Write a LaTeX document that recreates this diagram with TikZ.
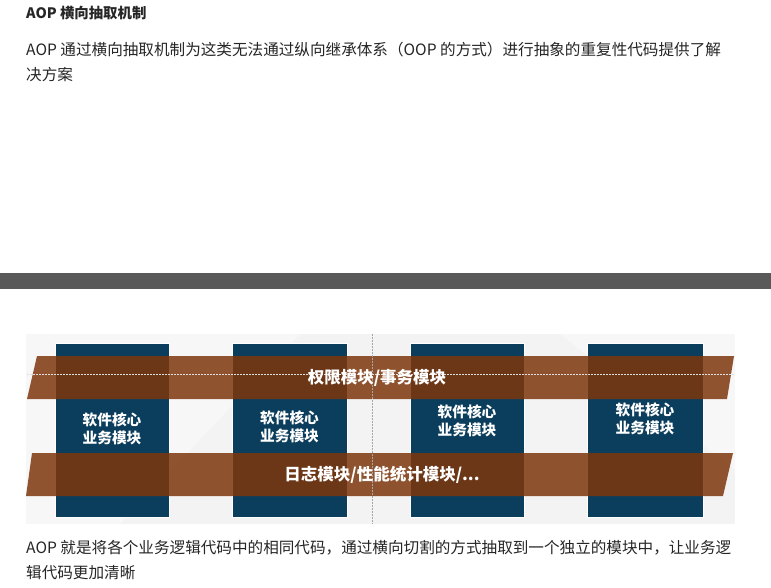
\documentclass[tikz,border=0pt]{standalone}
\usepackage{fontspec}
\setmainfont{Noto Sans CJK SC}
\definecolor{bandbrown}{RGB}{125,55,12}
\definecolor{boxblue}{RGB}{11,61,92}
\definecolor{bgpanel}{RGB}{243,243,243}
\definecolor{barbg}{RGB}{89,89,89}
\definecolor{txt}{RGB}{38,38,38}
\tikzset{
  para/.style={anchor=west,inner sep=0pt,text=txt,font=\fontsize{15.6}{18}\selectfont},
  modbox/.style={fill=boxblue,draw=white,line width=0.6pt,minimum height=174pt,inner sep=0pt},
  band/.style={fill=bandbrown,fill opacity=0.85,draw=none},
  bandtext/.style={text=white,font=\bfseries\fontsize{16.5}{18}\selectfont,inner sep=0pt},
  boxtext/.style={text=white,font=\bfseries\fontsize{14.7}{18.5}\selectfont,align=center,inner sep=0pt},
  guide/.style={draw=gray!70,dash pattern=on 1.5pt off 1.5pt,line width=0.7pt}
}
\begin{document}
\begin{tikzpicture}[x=1pt,y=-1pt]
\useasboundingbox (0,0) rectangle (771,588);
\fill[white] (0,0) rectangle (771,588);
% heading and text
\node[para,font=\bfseries\fontsize{14.4}{18}\selectfont] (title) at (26,13) {AOP 横向抽取机制};
\node[para] (p1) at (26,50) {AOP 通过横向抽取机制为这类无法通过纵向继承体系（OOP 的方式）进行抽象的重复性代码提供了解};
\node[para] (p2) at (26,75) {决方案};
% separator bar
\fill[barbg] (0,273) rectangle (771,289);
% picture panel
\fill[bgpanel] (26,334) rectangle (735,524);
\fill[white,opacity=0.35] (26,334) -- (300,334) -- (120,524) -- (26,524) -- cycle;
\fill[white,opacity=0.35] (560,334) -- (735,334) -- (735,470) -- cycle;
% module boxes
\node[modbox,minimum width=114pt] (b1) at (112,430) {};
\node[modbox,minimum width=115pt] (b2) at (289.5,430) {};
\node[modbox,minimum width=114pt] (b3) at (467,430) {};
\node[modbox,minimum width=116pt] (b4) at (645,430) {};
% bands
\fill[band] (37,356) -- (734,356) -- (727,399) -- (27,399) -- cycle;
\fill[band] (32,453) -- (733,453) -- (723,496) -- (26,496) -- cycle;
% guide lines
\draw[guide] (372,334) -- (372,524);
\draw[guide,draw=white!75!gray] (27,374) -- (735,374);
% texts
\node[bandtext] (t1) at (377,378) {权限模块/事务模块};
\node[bandtext] (t2) at (382,475) {日志模块/性能统计模块/...};
\node[boxtext] (bt1) at (112,429) {软件核心\\业务模块};
\node[boxtext] (bt2) at (289.5,427) {软件核心\\业务模块};
\node[boxtext] (bt3) at (467,421) {软件核心\\业务模块};
\node[boxtext] (bt4) at (645,419) {软件核心\\业务模块};
% bottom text
\node[para] (p3) at (26,548) {AOP 就是将各个业务逻辑代码中的相同代码，通过横向切割的方式抽取到一个独立的模块中，让业务逻};
\node[para] (p4) at (26,573) {辑代码更加清晰};
\end{tikzpicture}
\end{document}
